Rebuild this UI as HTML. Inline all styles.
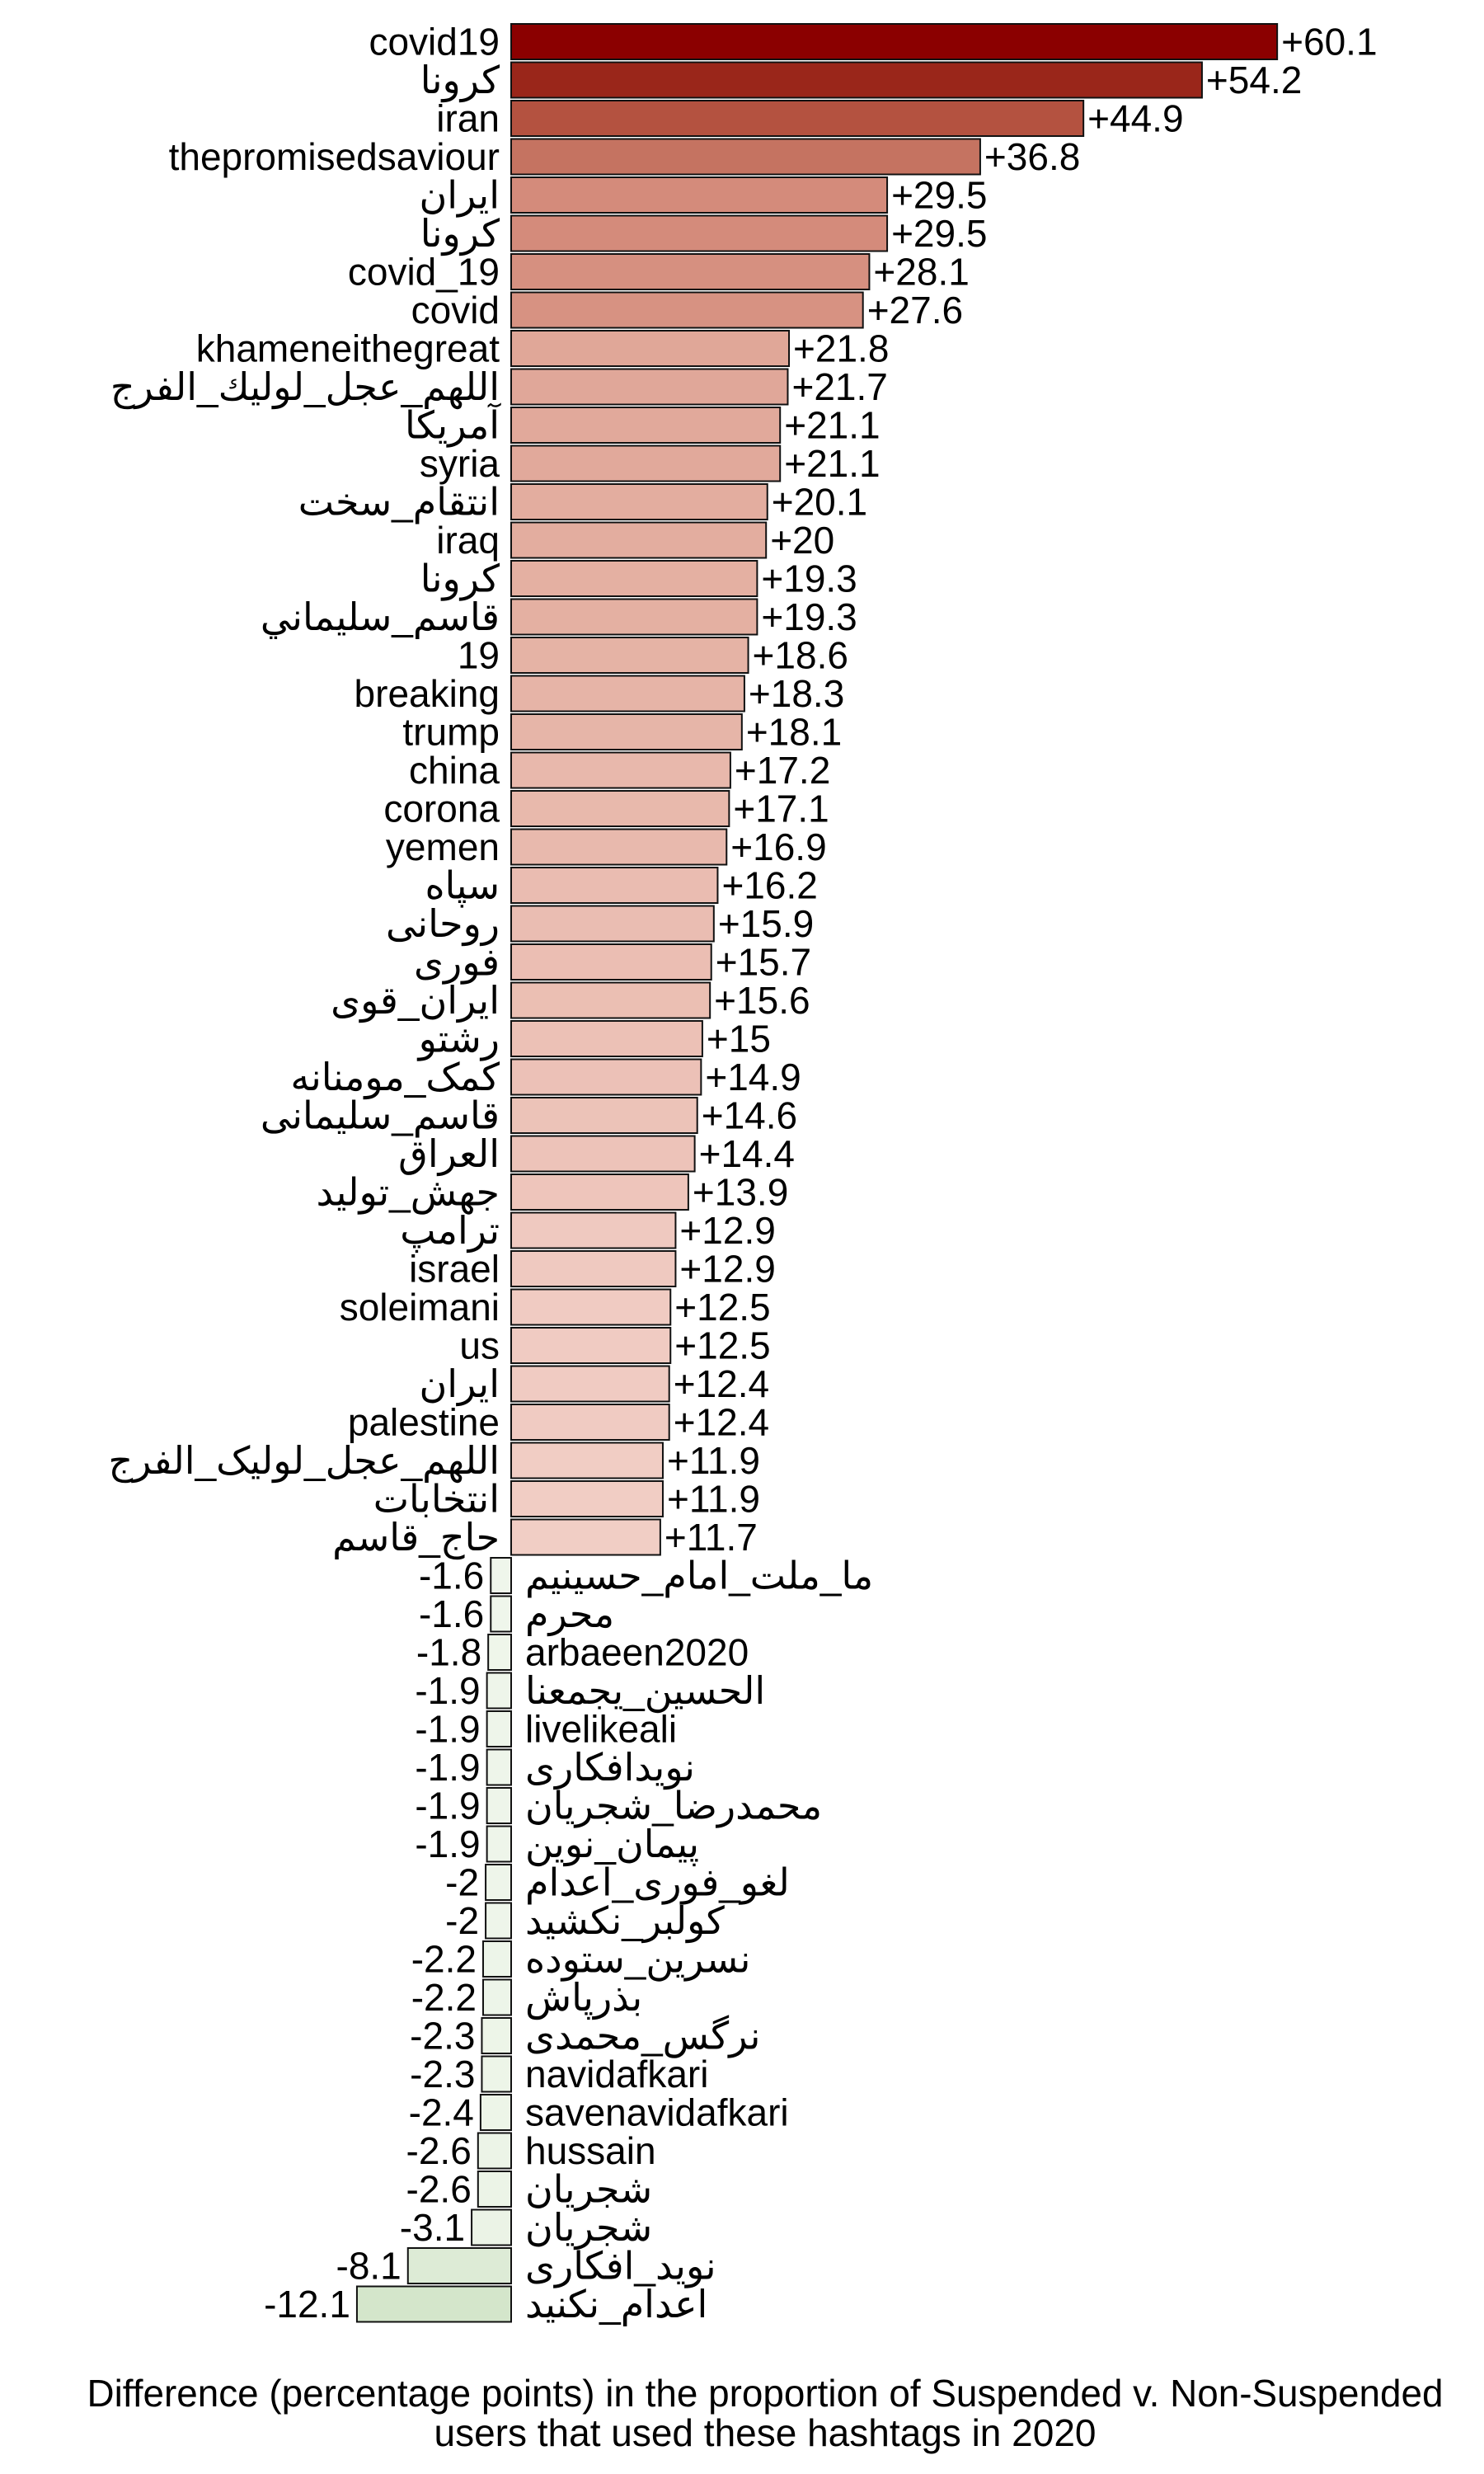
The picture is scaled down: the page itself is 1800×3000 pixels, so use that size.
<!DOCTYPE html>
<html><head><meta charset="utf-8">
<style>
html,body{margin:0;padding:0;background:#fff;}
svg{display:block;}
text{font-family:"Liberation Sans","Noto Sans CJK SC",sans-serif;font-size:46px;fill:#000;}
</style></head>
<body>
<svg id="chart" width="1800" height="3000" viewBox="0 0 1800 3000" xmlns="http://www.w3.org/2000/svg">
<g id="bars"></g>
<text x="928" y="2918" text-anchor="middle" textLength="1645" lengthAdjust="spacingAndGlyphs">Difference (percentage points) in the proportion of Suspended v. Non-Suspended</text>
<text x="928" y="2966" text-anchor="middle">users that used these hashtags in 2020</text>
</svg>
<script>
const categories = ["covid19","كرونا","iran","thepromisedsaviour","ایران","کرونا","covid_19","covid","khameneithegreat","اللهم_عجل_لوليك_الفرج","آمریکا","syria","انتقام_سخت","iraq","كرونا","قاسم_سليماني","19","breaking","trump","china","corona","yemen","سپاه","روحانی","فوری","ایران_قوی","رشتو","کمک_مومنانه","قاسم_سلیمانی","العراق","جهش_تولید","ترامپ","israel","soleimani","us","ايران","palestine","اللهم_عجل_لولیک_الفرج","انتخابات","حاج_قاسم","ما_ملت_امام_حسینیم","محرم","arbaeen2020","الحسين_يجمعنا","livelikeali","نویدافکاری","محمدرضا_شجریان","پیمان_نوین","لغو_فوری_اعدام","کولبر_نکشید","نسرین_ستوده","بذرپاش","نرگس_محمدی","navidafkari","savenavidafkari","hussain","شجریان","شجريان","نوید_افکاری","اعدام_نکنید"];
const values = [60.1,54.2,44.9,36.8,29.5,29.5,28.1,27.6,21.8,21.7,21.1,21.1,20.1,20,19.3,19.3,18.6,18.3,18.1,17.2,17.1,16.9,16.2,15.9,15.7,15.6,15,14.9,14.6,14.4,13.9,12.9,12.9,12.5,12.5,12.4,12.4,11.9,11.9,11.7,-1.6,-1.6,-1.8,-1.9,-1.9,-1.9,-1.9,-1.9,-2,-2,-2.2,-2.2,-2.3,-2.3,-2.4,-2.6,-2.6,-3.1,-8.1,-12.1];
const valueLabels = values.map(v => (v > 0 ? "+" : "") + v);

const zeroX = 620, pxPerUnit = 15.46;
const top0 = 29, pitch = 46.5, barH = 43;
function xScale(v){ return zeroX + v * pxPerUnit; }
function yScale(i){ return top0 + i * pitch; }
function lerp(a,b,t){ return a.map((c,k)=>Math.round(c+(b[k]-c)*t)); }
const posStops = [[0,[252,240,236]],[12,[241,205,196]],[20,[227,173,159]],[29.5,[212,139,123]],[37,[197,114,96]],[45,[180,82,64]],[54,[155,39,27]],[60.1,[139,0,0]]];
function color(v){
  if (v < 0){
    const t = Math.min(1, -v/12.1);
    const c = lerp([246,250,243],[212,230,203],Math.pow(t,0.8));
    return "rgb("+c.join(",")+")";
  }
  for (let k=1;k<posStops.length;k++){
    if (v <= posStops[k][0]){
      const t=(v-posStops[k-1][0])/(posStops[k][0]-posStops[k-1][0]);
      return "rgb("+lerp(posStops[k-1][1],posStops[k][1],t).join(",")+")";
    }
  }
  return "rgb(139,0,0)";
}
const NS = "http://www.w3.org/2000/svg";
const g = document.getElementById("bars");
values.forEach((v,i)=>{
  const y = yScale(i);
  const x0 = Math.min(xScale(0), xScale(v)), w = Math.abs(xScale(v)-xScale(0));
  const r = document.createElementNS(NS,"rect");
  r.setAttribute("x", x0); r.setAttribute("y", y);
  r.setAttribute("width", w); r.setAttribute("height", barH);
  r.setAttribute("fill", color(v)); r.setAttribute("stroke", "#111"); r.setAttribute("stroke-width", "2");
  
  
  g.appendChild(r);
  const base = y + barH/2 + 16;
  const lab = document.createElementNS(NS,"text");
  const val = document.createElementNS(NS,"text");
  if (v >= 0){
    lab.setAttribute("x", zeroX - 14); lab.setAttribute("text-anchor","end");
    val.setAttribute("x", xScale(v) + 5); val.setAttribute("text-anchor","start");
  } else {
    lab.setAttribute("x", zeroX + 17); lab.setAttribute("text-anchor","start");
    val.setAttribute("x", xScale(v) - 8); val.setAttribute("text-anchor","end");
  }
  lab.setAttribute("y", base); val.setAttribute("y", base);
  lab.setAttribute("direction","ltr");
  lab.textContent = categories[i];
  val.textContent = valueLabels[i];
  
  
  
  
  g.appendChild(lab); g.appendChild(val);
});
</script>
</body></html>
